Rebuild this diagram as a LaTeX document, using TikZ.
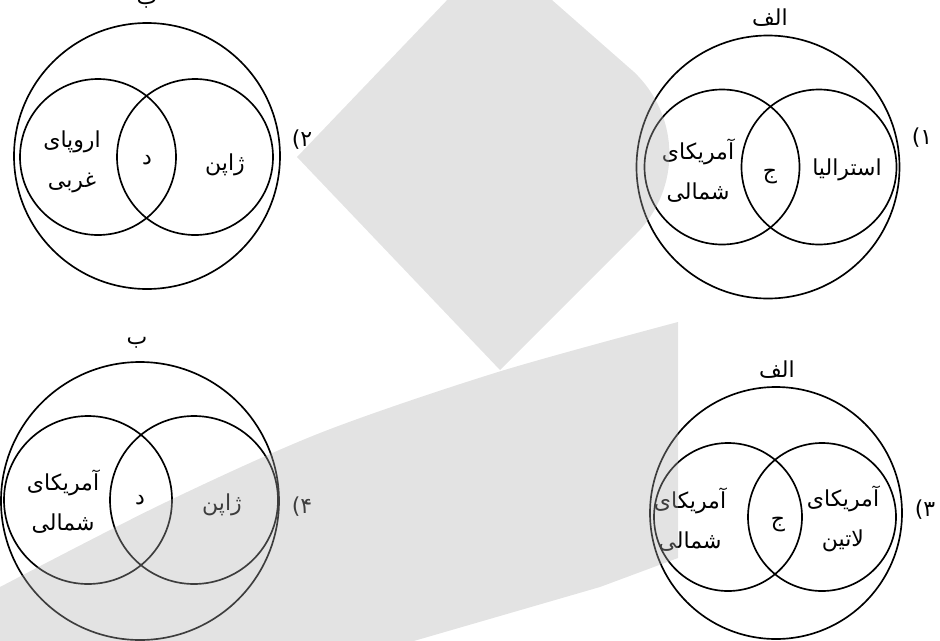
\documentclass[tikz,border=0pt]{standalone}
\usepackage{fontspec}
\TeXXeTstate=1
\newfontfamily\fa[Script=Arabic]{DejaVu Sans}
\newfontfamily\dvs{DejaVu Sans}
\newcommand\rl[1]{\beginR #1\endR}
\newcommand\optnum[1]{{\dvs (}{\fa #1}}
\tikzset{
  setc/.style={draw, circle, inner sep=0pt, line width=1.25pt},
  lbl/.style={font=\fa\fontsize{16.5}{30}\selectfont, align=center, inner sep=0pt},
  wm/.style={fill=black!31, fill opacity=0.35},
}
\begin{document}
\begin{tikzpicture}[x=0.75pt,y=-0.75pt]
\useasboundingbox (0,0) rectangle (940,640);
\clip (0,0) rectangle (940,640);

% ---- diagram 2 (top left)
\node[setc, minimum size=199.5pt] (o2) at (147,156) {};
\node[setc, minimum size=117pt] (l2) at (98,157) {};
\node[setc, minimum size=117pt] (r2) at (195,157) {};
\node[lbl] (t2l) at (72,162) {\rl{اروپای}\\\rl{غربی}};
\node[lbl] (t2m) at (147,160) {\rl{د}};
\node[lbl] (t2r) at (225,165) {\rl{ژاپن}};
\node[lbl] (h2) at (147,3) {\rl{ب}};
\node[lbl] (n2) at (302,140) {\optnum{۲}};

% ---- diagram 1 (top right)
\node[setc, minimum size=197.25pt] (o1) at (768,167) {};
\node[setc, minimum size=116.25pt] (l1) at (722,167) {};
\node[setc, minimum size=116.25pt] (r1) at (819,167) {};
\node[lbl] (t1l) at (698,171) {\rl{آمریکای}\\\rl{شمالی}};
\node[lbl] (t1m) at (770,177) {\rl{ج}};
\node[lbl] (t1r) at (847,170) {\rl{استرالیا}};
\node[lbl] (h1) at (770,18) {\rl{الف}};
\node[lbl] (n1) at (922,138) {\optnum{۱}};

% ---- diagram 4 (bottom left)
\node[setc, minimum size=208.5pt] (o4) at (140,501) {};
\node[setc, minimum size=126pt] (l4) at (88,500) {};
\node[setc, minimum size=126pt] (r4) at (194,500) {};
\node[lbl] (t4l) at (63,502) {\rl{آمریکای}\\\rl{شمالی}};
\node[lbl] (t4m) at (140,500) {\rl{د}};
\node[lbl] (t4r) at (222,505) {\rl{ژاپن}};
\node[lbl] (h4) at (137,343) {\rl{ب}};
\node[lbl] (n4) at (302,507) {\optnum{۴}};

% ---- diagram 3 (bottom right)
\node[setc, minimum size=189pt] (o3) at (776,513) {};
\node[setc, minimum size=111pt] (l3) at (728,517) {};
\node[setc, minimum size=111pt] (r3) at (822,517) {};
\node[lbl] (t3l) at (690,520) {\rl{آمریکای}\\\rl{شمالی}};
\node[lbl] (t3m) at (778,525) {\rl{ج}};
\node[lbl] (t3r) at (843,519) {\rl{آمریکای}\\\rl{لاتین}};
\node[lbl] (h3) at (777,370) {\rl{الف}};
\node[lbl] (n3) at (925,510) {\optnum{۳}};

% ---- watermark
\fill[wm] (297,157) -- (495,-50) -- (634,72)
  .. controls (680.4,116.2) and (681.3,188.7) .. (636,234)
  -- (500,370) -- cycle;
\fill[wm] plot[smooth] coordinates {(0,587) (160,505) (320,433) (498,372) (678,322)}
  -- (678,558) -- (600,587) -- (400,645) -- (0,645) -- cycle;
\end{tikzpicture}
\end{document}
